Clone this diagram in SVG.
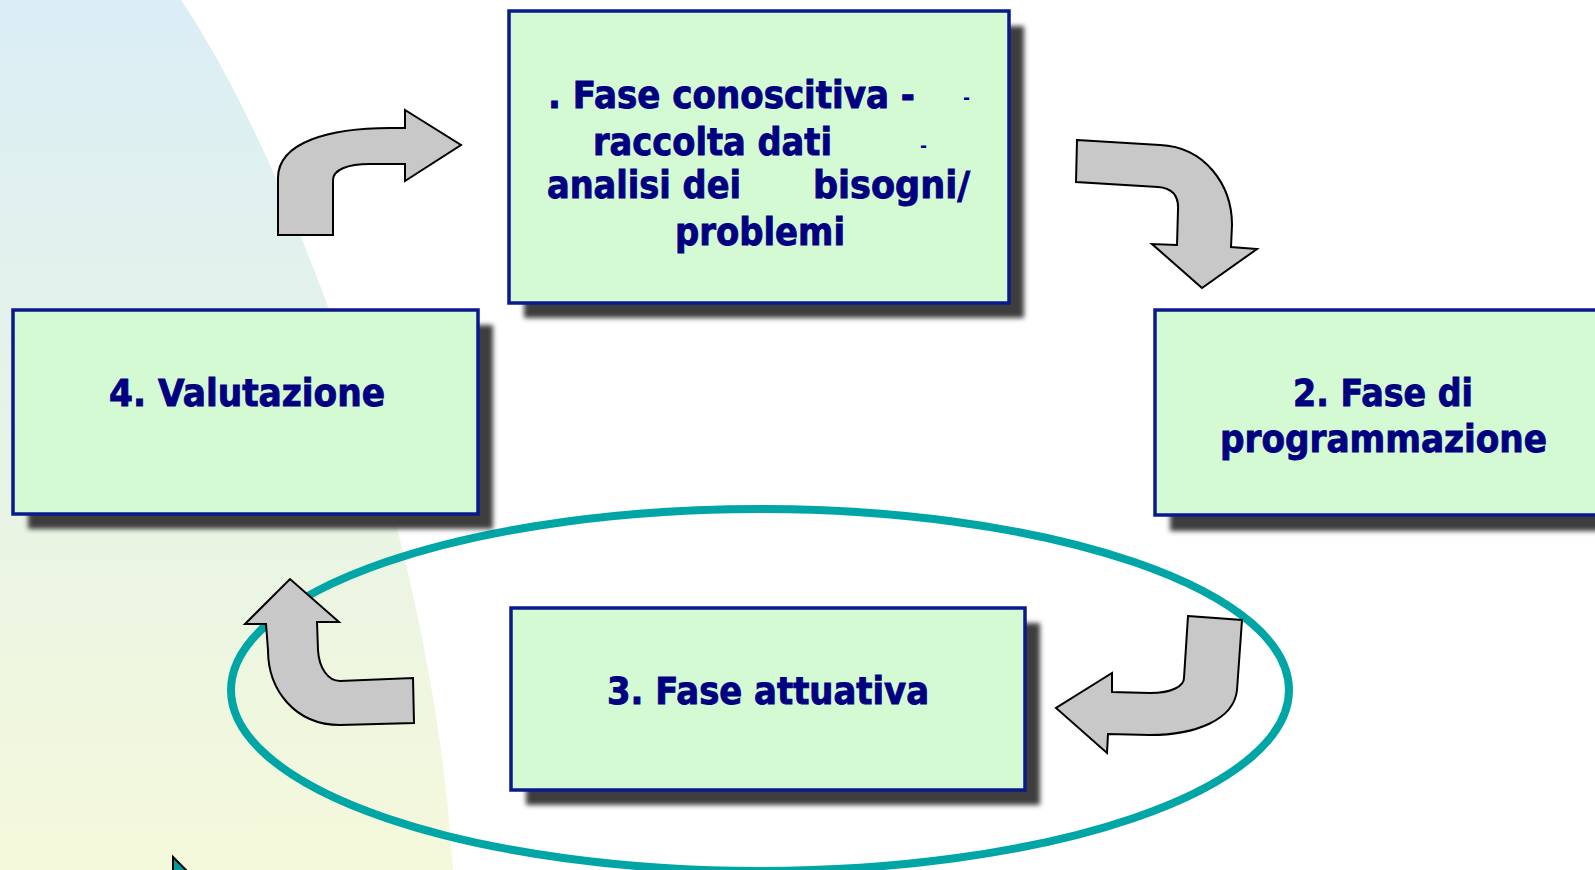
<svg xmlns="http://www.w3.org/2000/svg" width="1595" height="870" viewBox="0 0 1595 870">
  <defs>
    <linearGradient id="bgGrad" x1="0" y1="0" x2="0" y2="1">
      <stop offset="0" stop-color="#DBEEF6"/>
      <stop offset="0.5" stop-color="#E6F3E6"/>
      <stop offset="1" stop-color="#F5F9DB"/>
    </linearGradient>
    <filter id="shadow" x="-10%" y="-10%" width="130%" height="130%">
      <feGaussianBlur stdDeviation="2.5"/>
    </filter>
    <style>
      .box { fill: #D4FAD4; stroke: #0A1A8C; stroke-width: 3.5; }
      .shd { fill: #3C3C3C; filter: url(#shadow); }
      .lbl { font-family: "DejaVu Sans", "Liberation Sans", sans-serif; font-weight: bold; font-size: 37px; fill: #000080; stroke: #000080; stroke-width: 0.9; }
      .dash { font-family: "DejaVu Sans", "Liberation Sans", sans-serif; font-weight: bold; font-size: 17px; fill: #000080; }
      .arrow { fill: #C8C8C8; stroke: #000000; stroke-width: 2; stroke-linejoin: miter; }
    </style>
  </defs>

  <rect x="0" y="0" width="1595" height="870" fill="#FFFFFF"/>
  <path d="M0,0 L181,0 C270,130 430,500 453,870 L0,870 Z" fill="url(#bgGrad)"/>

  <ellipse id="cycle-ellipse" cx="760" cy="690" rx="529" ry="181" fill="none" stroke="#00A6A6" stroke-width="8"/>

  <g id="node-1">
    <rect class="shd" x="524" y="26" width="500" height="292"/>
    <rect class="box" x="509" y="11" width="500" height="292"/>
    <text class="lbl" x="548" y="108" textLength="367" lengthAdjust="spacingAndGlyphs">. Fase conoscitiva -</text>
    <text class="dash" x="963" y="104">-</text>
    <text class="lbl" x="593" y="155" textLength="239" lengthAdjust="spacingAndGlyphs">raccolta dati</text>
    <text class="dash" x="920" y="152">-</text>
    <text class="lbl" x="547" y="198" textLength="194" lengthAdjust="spacingAndGlyphs">analisi dei</text>
    <text class="lbl" x="813" y="198" textLength="157" lengthAdjust="spacingAndGlyphs">bisogni/</text>
    <text class="lbl" x="675" y="245" textLength="170" lengthAdjust="spacingAndGlyphs">problemi</text>
  </g>

  <g id="node-2">
    <rect class="shd" x="1170" y="325" width="456" height="206"/>
    <rect class="box" x="1155" y="310" width="456" height="205"/>
    <text class="lbl" x="1293" y="406" textLength="180" lengthAdjust="spacingAndGlyphs">2. Fase di</text>
    <text class="lbl" x="1220" y="452" textLength="327" lengthAdjust="spacingAndGlyphs">programmazione</text>
  </g>

  <g id="node-3">
    <rect class="shd" x="526" y="623" width="514" height="182"/>
    <rect class="box" x="511" y="608" width="514" height="182"/>
    <text class="lbl" x="607" y="704" textLength="322" lengthAdjust="spacingAndGlyphs">3. Fase attuativa</text>
  </g>

  <g id="node-4">
    <rect class="shd" x="28" y="325" width="465" height="204"/>
    <rect class="box" x="13" y="310" width="465" height="204"/>
    <text class="lbl" x="109" y="406" textLength="276" lengthAdjust="spacingAndGlyphs">4. Valutazione</text>
  </g>

  <g id="connectors">
    <path class="arrow" d="M278,235 L278,178 C278,142 330,128 390,128 L405,128 L405,110 L461,145 L405,181 L405,164 L370,164 C347,164 333,170 333,180 L333,235 Z"/>
    <path class="arrow" d="M1077,140 L1160,145 C1205,147 1232,185 1232,225 L1231,247 L1257,249 L1202,288 L1152,244 L1177,245 L1178,210 C1179,195 1172,188 1158,187 L1076,182 Z"/>
    <path class="arrow" d="M1188,616 L1242,620 L1237,690 C1234,720 1195,735 1150,735 L1108,734 L1107,753 L1056,708 L1112,673 L1112,692 L1150,693 C1172,693 1184,686 1184,678 Z"/>
    <path class="arrow" d="M413,678 L414,723 L340,725 C295,725 268,690 268,650 L266,624 L245,624 L290,579 L339,622 L317,622 L318,650 C319,668 328,681 340,681 Z"/>
  </g>

  <polygon points="173,857 173,874 190,874" fill="#009C9C" stroke="#000000" stroke-width="2"/>
</svg>
